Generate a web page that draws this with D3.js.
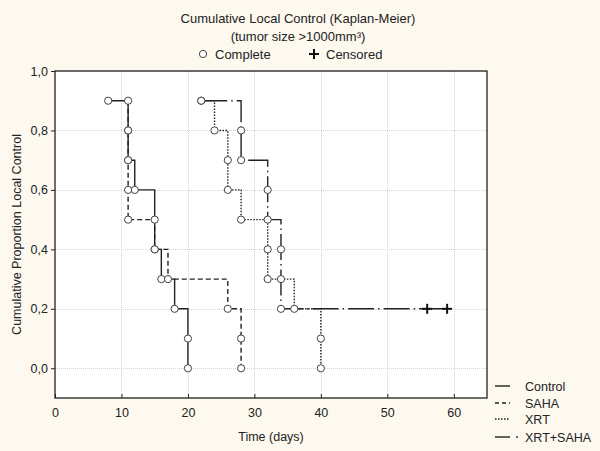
<!DOCTYPE html>
<html>
<head>
<meta charset="utf-8">
<script src="https://cdn.jsdelivr.net/npm/d3@7/dist/d3.min.js"></script>
<style>
  html, body { margin: 0; padding: 0; background: #fdf9ef; }
  svg { display: block; font-family: "Liberation Sans", Arial, sans-serif; }
</style>
</head>
<body>
<svg id="chart" width="600" height="451"></svg>
<script>
// ---- Data ----
const groups = ["Control", "SAHA", "XRT", "XRT+SAHA"];
const controlTimes = [8, 11, 11, 12, 15, 15, 16, 18, 20, 20];
const controlSurv  = [0.9, 0.8, 0.7, 0.6, 0.5, 0.4, 0.3, 0.2, 0.1, 0.0];
const sahaTimes = [11, 11, 11, 11, 11, 15, 17, 26, 28, 28];
const sahaSurv  = [0.9, 0.8, 0.7, 0.6, 0.5, 0.4, 0.3, 0.2, 0.1, 0.0];
const xrtTimes = [22, 24, 26, 26, 28, 32, 32, 36, 40, 40];
const xrtSurv  = [0.9, 0.8, 0.7, 0.6, 0.5, 0.4, 0.3, 0.2, 0.1, 0.0];
const xrtSahaTimes = [22, 28, 28, 32, 32, 34, 34, 34];
const xrtSahaSurv  = [0.9, 0.8, 0.7, 0.6, 0.5, 0.4, 0.3, 0.2];
const xrtSahaCensorTimes = [56, 59];
const xrtSahaCensorSurv  = [0.2, 0.2];
const xTicks = [0, 10, 20, 30, 40, 50, 60];
const yTicks = [0.0, 0.2, 0.4, 0.6, 0.8, 1.0];

const series = [
  { name: groups[0], times: controlTimes, surv: controlSurv, cT: [], cS: [], dash: null },
  { name: groups[1], times: sahaTimes, surv: sahaSurv, cT: [], cS: [], dash: "5,3" },
  { name: groups[2], times: xrtTimes, surv: xrtSurv, cT: [], cS: [], dash: "1.5,1.5" },
  { name: groups[3], times: xrtSahaTimes, surv: xrtSahaSurv, cT: xrtSahaCensorTimes, cS: xrtSahaCensorSurv, dash: "26,4,1.5,4" }
];

// ---- Layout ----
const svg = d3.select("#chart");
const L = 55, R = 487, T = 71, B = 398;
const x = d3.scaleLinear().domain([0, 65]).range([L, R]);
const y = d3.scaleLinear().domain([-0.1, 1.0]).range([B, T]);
const fmt = v => d3.format(".1f")(v).replace(".", ",");

// plot background
svg.append("rect").attr("x", L).attr("y", T).attr("width", R - L).attr("height", B - T)
  .attr("fill", "#ffffff");

// grid
const grid = svg.append("g").attr("stroke", "#d4d4d4").attr("stroke-width", 1).attr("stroke-dasharray", "1,1");
grid.selectAll("line.v").data(xTicks.filter(d => d > 0)).join("line")
  .attr("x1", d => Math.round(x(d)) + 0.5).attr("x2", d => Math.round(x(d)) + 0.5)
  .attr("y1", T).attr("y2", B);
grid.selectAll("line.h").data(yTicks).join("line")
  .attr("y1", d => Math.round(y(d)) + 0.5).attr("y2", d => Math.round(y(d)) + 0.5)
  .attr("x1", L).attr("x2", R);

// axes
const xAxis = d3.axisBottom(x).tickValues(xTicks).tickSize(-4).tickPadding(10).tickFormat(d3.format("d"));
const gx = svg.append("g").attr("transform", `translate(0,${B})`).call(xAxis);
const yAxis = d3.axisLeft(y).tickValues(yTicks).tickSize(4).tickPadding(3).tickFormat(fmt);
const gy = svg.append("g").attr("transform", `translate(${L},0)`).call(yAxis);
[gx, gy].forEach(g => {
  g.select(".domain").remove();
  g.selectAll("line").attr("stroke", "#222");
  g.selectAll("text").attr("font-size", 12.5).attr("fill", "#222")
    .attr("font-family", "Liberation Sans, Arial, sans-serif");
});

// frame
svg.append("rect").attr("x", L).attr("y", T).attr("width", R - L).attr("height", B - T)
  .attr("fill", "none").attr("stroke", "#222").attr("stroke-width", 1.3);

// curves
const line = d3.line().x(d => x(d[0])).y(d => y(d[1])).curve(d3.curveStepAfter);
series.forEach(s => {
  const pts = s.times.map((t, i) => [t, s.surv[i]]);
  if (s.cT.length) {
    const last = s.cT[s.cT.length - 1];
    pts.push([last, s.surv[s.surv.length - 1]]);
  }
  svg.append("path").datum(pts).attr("d", line)
    .attr("fill", "none").attr("stroke", "#222").attr("stroke-width", 1.4)
    .attr("stroke-dasharray", s.dash);
});
// event circles
series.forEach(s => {
  svg.append("g").selectAll("circle").data(s.times.map((t, i) => [t, s.surv[i]])).join("circle")
    .attr("cx", d => x(d[0])).attr("cy", d => y(d[1])).attr("r", 3.6)
    .attr("fill", "#fff").attr("stroke", "#444").attr("stroke-width", 1);
});
// censor marks
series.forEach(s => {
  const g = svg.append("g").attr("stroke", "#111").attr("stroke-width", 2);
  s.cT.forEach((t, i) => {
    const cx = x(t), cy = y(s.cS[i]);
    g.append("line").attr("x1", cx - 5).attr("x2", cx + 5).attr("y1", cy).attr("y2", cy);
    g.append("line").attr("x1", cx).attr("x2", cx).attr("y1", cy - 5).attr("y2", cy + 5);
  });
});

// titles
svg.append("text").attr("x", 298).attr("y", 23).attr("text-anchor", "middle")
  .attr("font-size", 13).attr("fill", "#222").text("Cumulative Local Control (Kaplan-Meier)");
svg.append("text").attr("x", 298).attr("y", 41).attr("text-anchor", "middle")
  .attr("font-size", 13).attr("fill", "#222").text("(tumor size >1000mm³)");
// top legend
svg.append("circle").attr("cx", 203).attr("cy", 54).attr("r", 3.6)
  .attr("fill", "#fff").attr("stroke", "#444");
svg.append("text").attr("x", 215).attr("y", 59).attr("font-size", 13).attr("fill", "#222").text("Complete");
const pg = svg.append("g").attr("stroke", "#111").attr("stroke-width", 2);
pg.append("line").attr("x1", 309).attr("x2", 319).attr("y1", 54).attr("y2", 54);
pg.append("line").attr("x1", 314).attr("x2", 314).attr("y1", 49).attr("y2", 59);
svg.append("text").attr("x", 326).attr("y", 59).attr("font-size", 13).attr("fill", "#222").text("Censored");

// axis titles
svg.append("text").attr("x", (L + R) / 2).attr("y", 441).attr("text-anchor", "middle")
  .attr("font-size", 12.5).attr("fill", "#222").text("Time (days)");
svg.append("text").attr("transform", `translate(21,${(T + B) / 2}) rotate(-90)`)
  .attr("text-anchor", "middle").attr("font-size", 12.5).attr("fill", "#222")
  .text("Cumulative Proportion Local Control");

// bottom-right legend
const legY = [386, 403, 419, 437];
const legDash = ["", "4,3", "1.5,1.5", ""];
series.forEach((s, i) => {
  svg.append("line").attr("x1", 495).attr("x2", 510).attr("y1", legY[i]).attr("y2", legY[i])
    .attr("stroke", "#222").attr("stroke-width", 1.4).attr("stroke-dasharray", legDash[i] || null);
  if (i === 3) {
    svg.append("circle").attr("cx", 517).attr("cy", legY[i]).attr("r", 0.9).attr("fill", "#222");
  }
  svg.append("text").attr("x", 525).attr("y", legY[i] + 4.5).attr("font-size", 12.5)
    .attr("fill", "#222").text(s.name);
});
</script>
</body>
</html>
